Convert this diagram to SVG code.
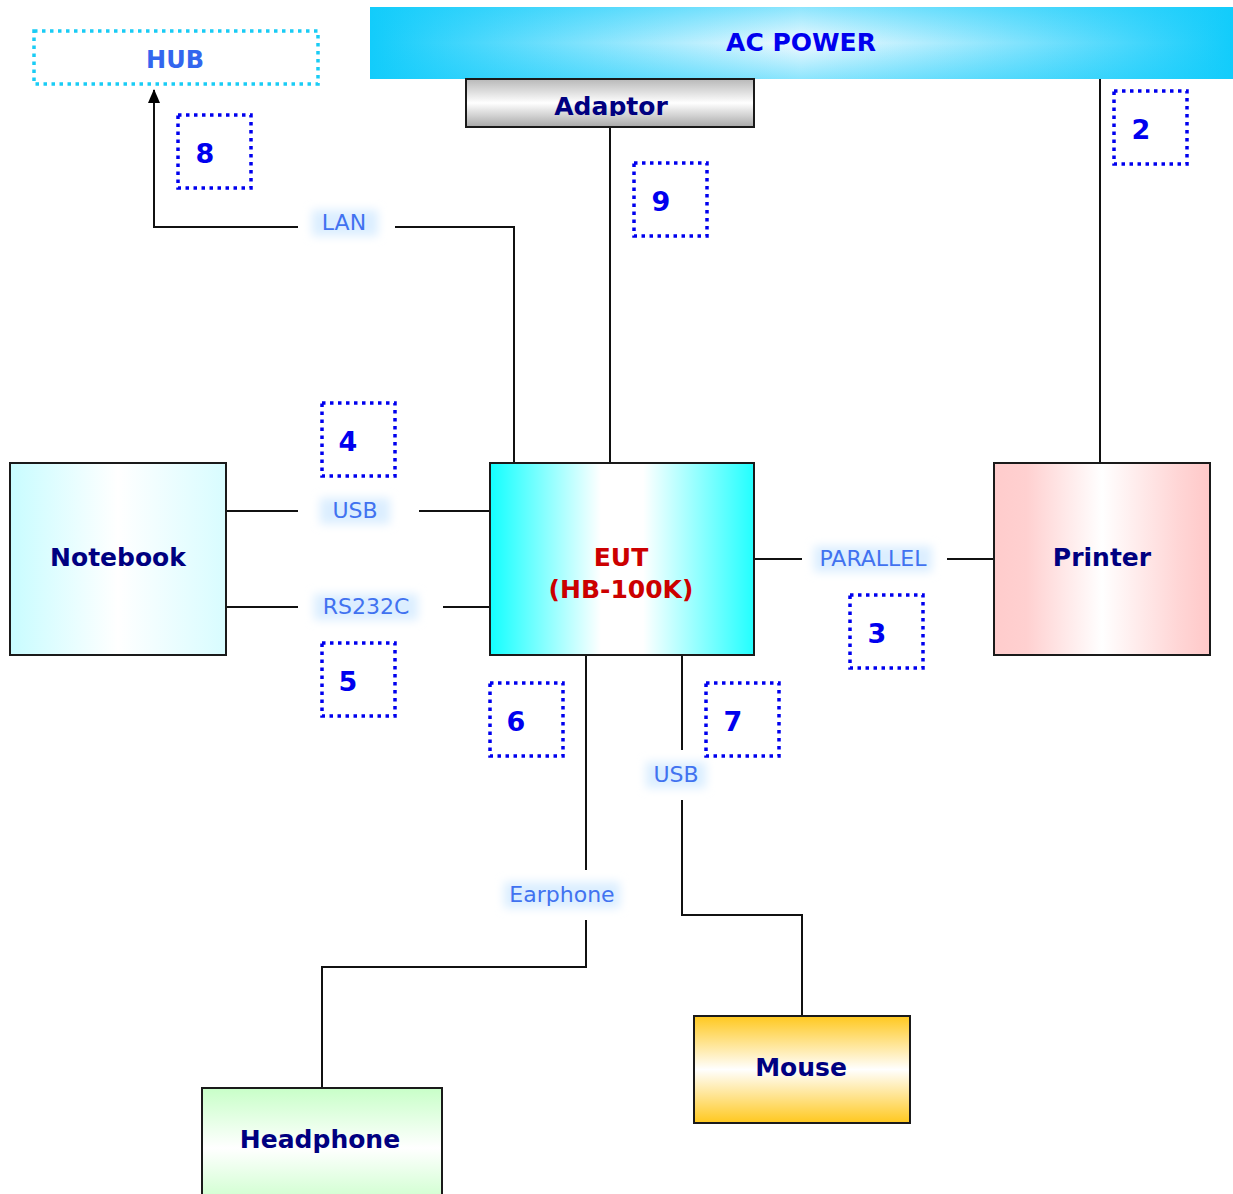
<svg xmlns="http://www.w3.org/2000/svg" width="1233" height="1194" viewBox="0 0 1233 1194">
<style>
.node{stroke:#1a1a1a;stroke-width:2}
.nt{font-family:"DejaVu Sans",sans-serif;font-weight:bold;font-size:25px;fill:#000080;text-anchor:middle;dominant-baseline:central}
.num{fill:none;stroke:#0000EE;stroke-width:3.5;stroke-dasharray:3.5 4.5}
.numt{font-family:"DejaVu Sans",sans-serif;font-weight:bold;font-size:27px;fill:#0000EE;text-anchor:middle;dominant-baseline:central}
.lbl{font-family:"DejaVu Sans",sans-serif;font-size:22px;fill:#4172F0;text-anchor:middle;dominant-baseline:central}
.glow{fill:#dbeeff;filter:url(#blur)}
.wire{fill:none;stroke:#111;stroke-width:2}
</style>
<defs>
<linearGradient id="gAC" x1="0" y1="0" x2="1" y2="0">
<stop offset="0" stop-color="#12CCFB"/><stop offset="0.5" stop-color="#F2FAFF"/><stop offset="1" stop-color="#12CCFB"/>
</linearGradient>
<linearGradient id="gACv" x1="0" y1="0" x2="0" y2="1">
<stop offset="0" stop-color="#12CCFB" stop-opacity="0.9"/><stop offset="0.5" stop-color="#12CCFB" stop-opacity="0"/><stop offset="1" stop-color="#12CCFB" stop-opacity="0.9"/>
</linearGradient>
<linearGradient id="gAd" x1="0" y1="0" x2="0" y2="1">
<stop offset="0" stop-color="#b8b8b8"/><stop offset="0.5" stop-color="#ffffff"/><stop offset="1" stop-color="#a8a8a8"/>
</linearGradient>
<linearGradient id="gEUT" x1="0" y1="0" x2="1" y2="0">
<stop offset="0" stop-color="#12FFFF"/><stop offset="0.42" stop-color="#ffffff"/><stop offset="0.58" stop-color="#ffffff"/><stop offset="1" stop-color="#22FFFF"/>
</linearGradient>
<linearGradient id="gNB" x1="0" y1="0" x2="1" y2="0">
<stop offset="0" stop-color="#c8fcff"/><stop offset="0.5" stop-color="#ffffff"/><stop offset="1" stop-color="#d8fcff"/>
</linearGradient>
<linearGradient id="gPR" x1="0" y1="0" x2="1" y2="0">
<stop offset="0" stop-color="#ffcccc"/><stop offset="0.15" stop-color="#ffd0d0"/><stop offset="0.5" stop-color="#ffffff"/><stop offset="0.85" stop-color="#ffd6d6"/><stop offset="1" stop-color="#ffc8c8"/>
</linearGradient>
<linearGradient id="gMo" x1="0" y1="0" x2="0" y2="1">
<stop offset="0" stop-color="#FFC81E"/><stop offset="0.5" stop-color="#ffffff"/><stop offset="1" stop-color="#FFC81E"/>
</linearGradient>
<linearGradient id="gHP" x1="0" y1="0" x2="0" y2="1">
<stop offset="0" stop-color="#c8ffc8"/><stop offset="0.5" stop-color="#ffffff"/><stop offset="1" stop-color="#c8ffc8"/>
</linearGradient>
<filter id="blur" x="-30%" y="-60%" width="160%" height="220%"><feGaussianBlur stdDeviation="5"/></filter>
<marker id="arr" markerWidth="14" markerHeight="12" refX="13" refY="6" orient="auto" markerUnits="userSpaceOnUse" viewBox="0 0 14 12">
<path d="M0,0 L14,6 L0,12 Z" fill="#000"/>
</marker>
<clipPath id="adClip"><rect x="466" y="79" width="288" height="37"/></clipPath>
</defs>
<rect width="1233" height="1194" fill="#fff"/>

<g id="connectors">
<polyline class="wire" points="514,463 514,227 395,227"/>
<polyline class="wire" points="298,227 154,227 154,90" marker-end="url(#arr)"/>
<line class="wire" x1="610" y1="127" x2="610" y2="463"/>
<line class="wire" x1="1100" y1="77" x2="1100" y2="463"/>
<line class="wire" x1="226" y1="511" x2="298" y2="511"/>
<line class="wire" x1="419" y1="511" x2="490" y2="511"/>
<line class="wire" x1="226" y1="607" x2="298" y2="607"/>
<line class="wire" x1="443" y1="607" x2="490" y2="607"/>
<line class="wire" x1="754" y1="559" x2="802" y2="559"/>
<line class="wire" x1="947" y1="559" x2="994" y2="559"/>
<line class="wire" x1="586" y1="655" x2="586" y2="870"/>
<polyline class="wire" points="586,920 586,967 322,967 322,1088"/>
<line class="wire" x1="682" y1="655" x2="682" y2="750"/>
<polyline class="wire" points="682,800 682,915 802,915 802,1016"/>
</g>

<g id="labels">
<g id="lbl-lan"><rect class="glow" x="312" y="210" width="66" height="26"/><text class="lbl" x="344" y="222">LAN</text></g>
<g id="lbl-usb1"><rect class="glow" x="320" y="498" width="70" height="26"/><text class="lbl" x="355" y="510">USB</text></g>
<g id="lbl-rs232"><rect class="glow" x="314" y="594" width="104" height="26"/><text class="lbl" x="366" y="606">RS232C</text></g>
<g id="lbl-par"><rect class="glow" x="814" y="546" width="118" height="26"/><text class="lbl" x="873" y="558">PARALLEL</text></g>
<g id="lbl-ear"><rect class="glow" x="504" y="882" width="116" height="26"/><text class="lbl" x="562" y="894">Earphone</text></g>
<g id="lbl-usb2"><rect class="glow" x="646" y="762" width="60" height="26"/><text class="lbl" x="676" y="774">USB</text></g>
</g>

<g id="ac-power">
<rect x="370" y="7" width="863" height="72" fill="url(#gAC)"/>
<rect x="370" y="7" width="863" height="72" fill="url(#gACv)" opacity="0.5"/>
<text class="nt" x="801" y="42" style="fill:#0000EE">AC POWER</text>
</g>

<g id="adaptor">
<rect class="node" x="466" y="79" width="288" height="48" fill="url(#gAd)"/>
<text class="nt" x="611" y="106" clip-path="url(#adClip)">Adaptor</text>
</g>

<g id="hub">
<rect x="34" y="31" width="284" height="53" fill="none" stroke="#1ACCF5" stroke-width="3.5" stroke-dasharray="3.5 4.5"/>
<text class="nt" x="175" y="60" style="fill:#3366EE;font-size:24px">HUB</text>
</g>

<g id="eut">
<rect class="node" x="490" y="463" width="264" height="192" fill="url(#gEUT)"/>
<text class="nt" x="621" y="557" style="fill:#CC0000">EUT</text>
<text class="nt" x="621" y="589" style="fill:#CC0000">(HB-100K)</text>
</g>

<g id="notebook">
<rect class="node" x="10" y="463" width="216" height="192" fill="url(#gNB)"/>
<text class="nt" x="118" y="557">Notebook</text>
</g>

<g id="printer">
<rect class="node" x="994" y="463" width="216" height="192" fill="url(#gPR)"/>
<text class="nt" x="1102" y="557">Printer</text>
</g>

<g id="mouse">
<rect class="node" x="694" y="1016" width="216" height="107" fill="url(#gMo)"/>
<text class="nt" x="801" y="1067">Mouse</text>
</g>

<g id="headphone">
<rect class="node" x="202" y="1088" width="240" height="120" fill="url(#gHP)"/>
<text class="nt" x="320" y="1139">Headphone</text>
</g>

<g id="num-2"><rect class="num" x="1114" y="91" width="73" height="73"/><text class="numt" x="1141" y="129">2</text></g>
<g id="num-3"><rect class="num" x="850" y="595" width="73" height="73"/><text class="numt" x="877" y="633">3</text></g>
<g id="num-4"><rect class="num" x="322" y="403" width="73" height="73"/><text class="numt" x="348" y="441">4</text></g>
<g id="num-5"><rect class="num" x="322" y="643" width="73" height="73"/><text class="numt" x="348" y="681">5</text></g>
<g id="num-6"><rect class="num" x="490" y="683" width="73" height="73"/><text class="numt" x="516" y="721">6</text></g>
<g id="num-7"><rect class="num" x="706" y="683" width="73" height="73"/><text class="numt" x="733" y="721">7</text></g>
<g id="num-8"><rect class="num" x="178" y="115" width="73" height="73"/><text class="numt" x="205" y="153">8</text></g>
<g id="num-9"><rect class="num" x="634" y="163" width="73" height="73"/><text class="numt" x="661" y="201">9</text></g>
</svg>
